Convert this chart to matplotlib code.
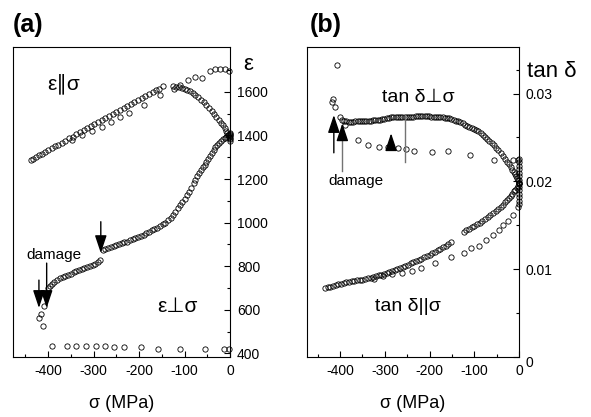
import matplotlib
matplotlib.use("Agg")
import matplotlib.pyplot as plt

plt.rcParams['font.family'] = ['Liberation Sans', 'DejaVu Sans']
plt.rcParams['axes.unicode_minus'] = False

# ---------------- panel (a) data: permittivity ----------------
par_load_s = [-438,-432,-426,-420,-413,-406,-399,-392,-385,-378,-370,-362,-354,-346,-338,-330,-322,-314,
              -306,-298,-290,-282,-274,-266,-258,-250,-242,-234,-226,-218,-210,-202,-194,-186,-178,-170,
              -162,-155,-148]
par_load_e = [1288,1294,1301,1309,1317,1325,1333,1341,1350,1358,1367,1376,1386,1395,1405,1414,1424,1433,
              1443,1452,1462,1471,1481,1490,1500,1509,1518,1527,1536,1545,1554,1563,1572,1581,1590,1598,
              1607,1614,1626]

par_down_s = [-126,-123,-118,-112,-106,-100,-94,-88,-82,-76,-70,-64,-58,-52,-46,-40,-35,-30,-25,-20,-16,
              -12,-9,-6,-4,-2,-1,0,0,0,0,0]
par_down_e = [1628,1615,1623,1621,1619,1614,1608,1602,1593,1584,1575,1564,1553,1540,1526,1511,1498,1484,
              1470,1458,1446,1433,1420,1409,1401,1393,1390,1385,1376,1396,1405,1412]

par_unl_s = [-348,-326,-304,-282,-262,-241,-222,-189,-154,-110,-92,-77,-62,-45,-33,-22,-11,-2]
par_unl_e = [1380,1400,1420,1438,1464,1485,1505,1541,1584,1631,1654,1669,1665,1695,1703,1705,1703,1695]

perp_load_s = [-419,-415,-411,-409,-401,-396,-391,-386,-380,-374,-368,-362,-356,-350,-344,-338,-332,-326,
               -320,-314,-308,-302,-296,-290,-286,
               -279,-274,-268,-262,-256,-250,-244,-238,-232,-226,-220,-214,-208,-202,-196,-190,-184,-178,
               -172,-166,-160,-154,-148,-142,-136,-130,-125,-120,-115,-110,-105,-100,-95,-90,-85,-80,-76,
               -72,-68,-64,-60,-56,-52,-48,-44,-40,-36,-32,-28,-24,-20,-16,-12,-8,-4,-1]
perp_load_e = [561,580,526,618,700,710,718,727,735,744,750,756,761,766,771,776,781,786,
               791,796,801,806,812,818,826,
               872,878,882,887,891,896,900,905,909,913,918,923,928,933,939,945,951,958,
               964,971,977,984,992,1000,1010,1022,1035,1050,1065,1080,1095,1110,1125,1142,1160,1180,1196,
               1212,1228,1240,1253,1266,1280,1294,1307,1320,1333,1345,1356,1366,1375,1383,1390,1395,1400,1402]

perp_unl_s = [-392,-359,-338,-316,-295,-274,-254,-234,-196,-158,-110,-55,-13,-2]
perp_unl_e = [434,433,433,433,433,432,431,430,429,422,419,418,418,418]

# ---------------- panel (b) data: loss tangent ----------------
tperp_load_s = [-406,-419,-416,-412,-401,-389,-396,-391,-386,-381,-376,-371,-366,-361,-356,-351,-346,-341,
                -336,-331,-326,-321,-316,-311,-306,-301,-296,-291,-286,-281,-276,-271,-266,-261,-256,-251,
                -246,-241,-236,-231,-226,-221,-216,-211,-206,-201,-196,-191,-186,-181,-176,-171,-166,-161,
                -156,-151,-146,-141,-136,-131,-126,-121,-116,-111,-106,-101,-96,-91,-86,-81,-76,-71,-66,
                -61,-56,-51,-46,-41,-36,-31,-27,-23,-19,-15,-12,-9,-6,-4,-2,0]
tperp_load_t = [0.0333,0.0290,0.0294,0.0285,0.02734,0.02640,0.02700,0.02690,0.02684,0.02680,0.02678,0.02680,
                0.02684,0.02687,0.02689,0.02690,0.02691,0.02692,0.02692,0.02693,0.02694,0.02696,0.02698,
                0.02702,0.02708,0.02714,0.02720,0.02725,0.02728,0.02730,0.02731,0.02732,0.02732,0.02731,
                0.02731,0.02731,0.02732,0.02734,0.02736,0.02740,0.02744,0.02746,0.02745,0.02743,0.02741,
                0.02739,0.02737,0.02735,0.02734,0.02734,0.02733,0.02730,0.02726,0.02721,0.02716,0.02710,
                0.02702,0.02693,0.02683,0.02672,0.02660,0.02647,0.02634,0.02620,0.02610,0.02600,0.02585,
                0.02568,0.02549,0.02530,0.02510,0.02488,0.02465,0.02440,0.02413,0.02385,0.02355,0.02323,
                0.02290,0.02255,0.02225,0.02195,0.02165,0.02135,0.02110,0.02085,0.02058,0.02035,0.02010,
                0.01985]

tperp_unl_s = [-359,-337,-314,-293,-271,-253,-234,-195,-158,-110,-55,-14,-2]
tperp_unl_t = [0.02467,0.0241,0.0239,0.0239,0.0238,0.0237,0.02345,0.02333,0.0235,0.0230,0.02246,0.02246,0.0224]

tpar_load_s = [-434,-428,-422,-416,-410,-404,-398,-392,-386,-380,-374,-368,-362,-356,-350,-344,-338,-332,
               -326,-320,-314,-308,-302,-296,-290,-284,-278,-272,-266,-260,-254,-248,-242,-236,-230,-224,
               -218,-212,-206,-200,-194,-188,-182,-176,-170,-164,-158,-152,
               -124,-118,-112,-106,-100,-94,-88,-82,-76,-70,-64,-58,-52,-46,-41,-36,-31,-27,-23,-19,-15,
               -11,-8,-5,-3,-1,0]
tpar_load_t = [0.00790,0.00795,0.00802,0.00810,0.00818,0.00826,0.00834,0.00842,0.00850,0.00856,0.00862,
               0.00866,0.00872,0.00876,0.00881,0.00886,0.00894,0.00902,0.00911,0.00920,0.00929,0.00939,
               0.00949,0.00959,0.00969,0.00979,0.00990,0.01002,0.01014,0.01026,0.01039,0.01052,0.01066,
               0.01080,0.01093,0.01107,0.01121,0.01136,0.01150,0.01166,0.01182,0.01198,0.01214,0.01231,
               0.01248,0.01266,0.01285,0.01305,
               0.01427,0.01444,0.01460,0.01476,0.01493,0.01510,0.01528,0.01548,0.01568,0.01590,0.01612,
               0.01635,0.01660,0.01686,0.01710,0.01735,0.01760,0.01785,0.01810,0.01835,0.01860,0.01885,
               0.01905,0.01925,0.01945,0.01965,0.01980]

tpar_unl_s = [-324,-303,-283,-262,-240,-219,-188,-153,-124,-107,-89,-74,-59,-45,-35,-24,-13,-3,0,
              0,0,0,0,0,0,0,0,0,0,0,0,0]
tpar_unl_t = [0.00886,0.00924,0.00943,0.00954,0.00981,0.01008,0.01069,0.01141,0.01183,0.01236,0.01267,
              0.01335,0.01389,0.01446,0.01503,0.01552,0.01617,0.01705,0.01743,
              0.0178,0.0182,0.0186,0.0190,0.0194,0.0198,0.0202,0.0206,0.0210,0.0214,0.0218,0.0222,0.0225]

# ticks
a_xticks = [-400, -300, -200, -100, 0]
a_yticks = [400, 600, 800, 1000, 1200, 1400, 1600]
b_yticks = [0, 0.01, 0.02, 0.03]
b_ylabels = ['', '0.01', '0.02', '0.03']

fig = plt.figure(figsize=(5.91, 4.17), dpi=100)
ax1 = fig.add_axes([13/591, 60/417, 217/591, 310/417])
ax2 = fig.add_axes([307/591, 60/417, 212/591, 310/417])

mk = dict(ls='none', marker='o', ms=3.8, mfc='none', mec='k', mew=0.6)

# panel (a)
for s, e in [(par_load_s, par_load_e), (par_down_s, par_down_e), (par_unl_s, par_unl_e),
             (perp_load_s, perp_load_e), (perp_unl_s, perp_unl_e)]:
    ax1.plot(s, e, **mk, clip_on=False)
ax1.set_xlim(-477, 0)
ax1.set_ylim(383, 1806)

# panel (b)
for s, t in [(tperp_load_s, tperp_load_t), (tperp_unl_s, tperp_unl_t),
             (tpar_load_s, tpar_load_t), (tpar_unl_s, tpar_unl_t)]:
    ax2.plot(s, t, **mk, clip_on=False)
ax2.set_xlim(-474, 0)
ax2.set_ylim(0, 0.0353)

for ax in (ax1, ax2):
    ax.yaxis.tick_right()
    ax.tick_params(which='both', direction='in', left=False, right=True, top=False, bottom=True,
                   labelsize=10, pad=5, width=0.8)
    ax.tick_params(which='major', length=4)
    ax.tick_params(which='minor', length=2.5)
    for sp in ax.spines.values():
        sp.set_linewidth(0.8)
    ax.set_xticks(a_xticks)
    ax.set_xticklabels([str(v) for v in a_xticks])
    ax.set_xticks([-450, -350, -250, -150, -50], minor=True)
    ax.set_xlabel('σ (MPa)', fontsize=13, labelpad=12)

ax1.set_yticks(a_yticks)
ax1.set_yticklabels([str(v) for v in a_yticks])
ax1.set_yticks([500, 700, 900, 1100, 1300, 1500, 1700], minor=True)

ax2.set_yticks(b_yticks)
ax2.set_yticklabels(b_ylabels)
ax2.set_yticks([0.005, 0.015, 0.025, 0.0327], minor=True)
ax2.text(1.03, -0.02, '0', transform=ax2.transAxes, fontsize=10, ha='left', va='center')

# labels in (a)
ax1.text(-365, 1638, 'ε∥σ', fontsize=15, ha='center', va='center')
ax1.text(-116, 617, 'ε⊥σ', fontsize=15, ha='center', va='center')
ax1.text(-388, 851, 'damage', fontsize=11, ha='center', va='center')
ax1.text(1.06, 0.945, 'ε', transform=ax1.transAxes, fontsize=16, ha='left', va='center')

# labels in (b)
ax2.text(-226, 0.0295, 'tan δ⊥σ', fontsize=14, ha='center', va='center')
ax2.text(-248, 0.0058, 'tan δ||σ', fontsize=14, ha='center', va='center')
ax2.text(-364, 0.0200, 'damage', fontsize=11, ha='center', va='center')
ax2.text(1.04, 0.92, 'tan δ', transform=ax2.transAxes, fontsize=16, ha='left', va='center')

fig.text(13/591, 0.94, '(a)', fontsize=18, fontweight='bold', ha='left', va='center')
fig.text(310/591, 0.94, '(b)', fontsize=18, fontweight='bold', ha='left', va='center')

# arrows
def arrow(ax, x, y0, y1, color='k'):
    ax.annotate('', xy=(x, y1), xytext=(x, y0),
                arrowprops=dict(arrowstyle='-|>,head_length=0.9,head_width=0.3', color=color,
                                lw=1.0, shrinkA=0, shrinkB=0, mutation_scale=12))

arrow(ax1, -420, 736, 608)
arrow(ax1, -403, 814, 608)
arrow(ax1, -284, 1004, 860)

arrow(ax2, -414, 0.02325, 0.02755)
ax2.plot([-395, -395], [0.02113, 0.0250], color='0.45', lw=1.0)
arrow(ax2, -395, 0.02490, 0.02661)
arrow(ax2, -286, 0.02378, 0.02548)
ax2.plot([-255, -255], [0.02226, 0.02755], color='0.45', lw=1.0)

fig.savefig('out.png', dpi=100)
